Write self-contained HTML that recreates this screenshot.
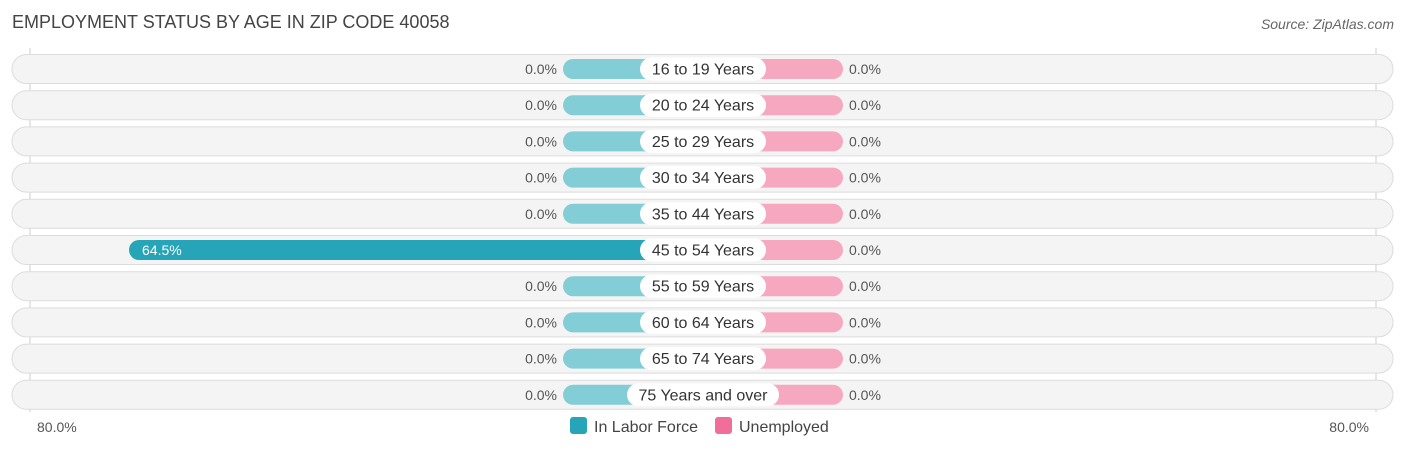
<!DOCTYPE html>
<html><head><meta charset="utf-8"><style>
body{margin:0;width:1406px;height:450px;background:#fff;font-family:"Liberation Sans",sans-serif;position:relative;overflow:hidden}
.t{position:absolute;left:12px;top:12px;font-size:18px;color:#444}
.src{position:absolute;right:12px;top:16px;font-size:14px;color:#666;font-style:italic}
</style></head><body>
<div class="t">EMPLOYMENT STATUS BY AGE IN ZIP CODE 40058</div>
<div class="src">Source: ZipAtlas.com</div>
<svg id="c" width="1406" height="450" style="position:absolute;left:0;top:0"></svg>
<script>
const categories=["16 to 19 Years","20 to 24 Years","25 to 29 Years","30 to 34 Years","35 to 44 Years","45 to 54 Years","55 to 59 Years","60 to 64 Years","65 to 74 Years","75 Years and over"];
const laborForce=[0,0,0,0,0,64.5,0,0,0,0];
const unemployed=[0,0,0,0,0,0,0,0,0,0];
const axisMax=80;
const cx=703, pxPer=(703-129)/64.5, stub=140;
const svg=document.getElementById('c');
const NS='http://www.w3.org/2000/svg';
function mk(tag,attrs,parent){const e=document.createElementNS(NS,tag);for(const k in attrs)e.setAttribute(k,attrs[k]);(parent||svg).appendChild(e);return e;}
const rowY=i=>69+i*36.2;
const bw=v=>v>0?Math.max(stub,v*pxPer):stub;
// gridlines
let g1=mk('line',{x1:30,x2:30,y1:48,y2:412,stroke:'#ccc','stroke-width':1});


let g2=mk('line',{x1:1376,x2:1376,y1:48,y2:412,stroke:'#ccc','stroke-width':1});


categories.forEach((cat,i)=>{
  const y=rowY(i);
  const g=mk('g',{});
  
  
  const bg=mk('rect',{x:12,y:y-14.5,width:1381,height:29,rx:14.5,fill:'#f4f4f4',stroke:'#dcdcdc'},g);
  
  
  const lw=bw(laborForce[i]);
  const lb=mk('rect',{x:cx-lw,y:y-10,width:lw,height:20,rx:10,fill:laborForce[i]>0?'#27a5b8':'#82cdd6'},g);
  
  
  const uw=bw(unemployed[i]);
  const ub=mk('rect',{x:cx,y:y-10,width:uw,height:20,rx:10,fill:'#f7a8c1'},g);
  
  
  const lab=cat.length>14;
  const pw=lab?152:126;
  const pill=mk('rect',{x:cx-pw/2,y:y-11.5,width:pw,height:23,rx:11.5,fill:'#fff'},g);
  
  
  const ct=mk('text',{x:cx,y:y+5.5,'text-anchor':'middle','font-size':16,fill:'#333'},g);
  ct.textContent=cat;
  
  
  let lt;
  if(laborForce[i]>0){
    lt=mk('text',{x:cx-lw+13,y:y+5,'font-size':14,fill:'#fff'},g);
  } else {
    lt=mk('text',{x:cx-lw-6,y:y+5,'text-anchor':'end','font-size':14,fill:'#555'},g);
  }
  lt.textContent=laborForce[i].toFixed(1)+'%';
  
  
  const ut=mk('text',{x:cx+uw+6,y:y+5,'font-size':14,fill:'#555'},g);
  ut.textContent=unemployed[i].toFixed(1)+'%';
  
  
});
const al=mk('text',{x:37,y:432,'font-size':14,fill:'#555'});
al.textContent=axisMax.toFixed(1)+'%';


const ar=mk('text',{x:1369,y:432,'text-anchor':'end','font-size':14,fill:'#555'});
ar.textContent=axisMax.toFixed(1)+'%';


const l1=mk('rect',{x:570,y:417,width:17,height:17,rx:3,fill:'#27a5b8'});


const l1t=mk('text',{x:594,y:432,'font-size':16,fill:'#444'});
l1t.textContent='In Labor Force';


const l2=mk('rect',{x:715,y:417,width:17,height:17,rx:3,fill:'#f06e9a'});


const l2t=mk('text',{x:739,y:432,'font-size':16,fill:'#444'});
l2t.textContent='Unemployed';


</script>
</body></html>
